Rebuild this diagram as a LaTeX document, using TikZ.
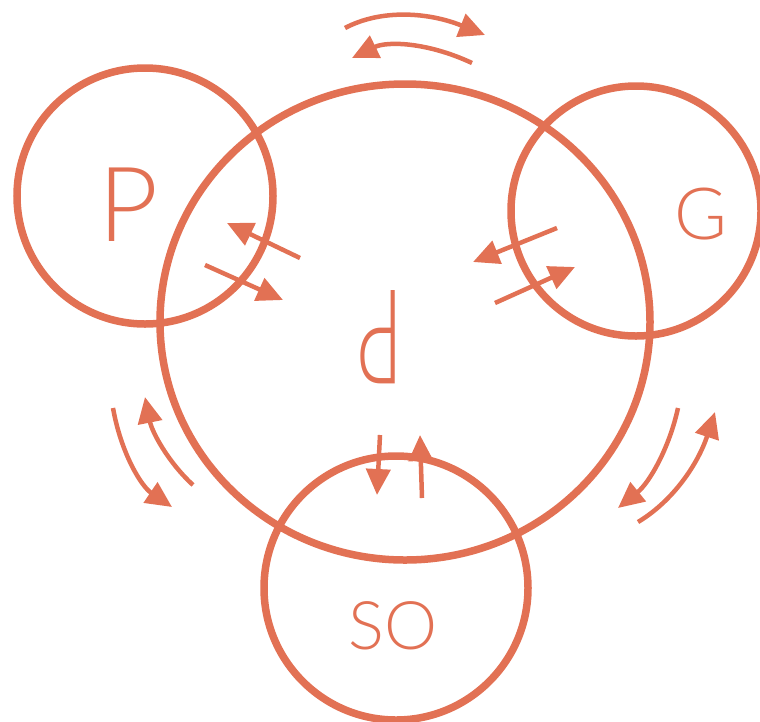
\documentclass[tikz,border=0pt]{standalone}
\usepackage{fontspec}
\newfontfamily\handfont{Lato Light}
\usetikzlibrary{arrows.meta, positioning, shapes.geometric}
\definecolor{salmon}{RGB}{226,113,84}
\begin{document}
\begin{tikzpicture}[x=1pt,y=-1pt,
  ring/.style={circle,draw=salmon,line width=7.5pt,inner sep=0pt},
  lbl/.style={text=salmon,inner sep=0pt},
  arr/.style={-{Triangle[length=26pt,width=24pt]},draw=salmon,line width=4.5pt}
]
  \useasboundingbox (0,0) rectangle (760,721);
  \node[ring,ellipse,minimum width=490pt,minimum height=476pt](core) at (405,322){};
  \node[ring,minimum size=256pt](pol) at (145,196){};
  \node[ring,minimum size=250pt](gov) at (636,211){};
  \node[ring,minimum size=264pt](soc) at (396,588){};

  \node[lbl,font=\handfont\fontsize{104}{104}\selectfont](polt) at (129,205){P};
  \node[lbl,font=\handfont\fontsize{72}{72}\selectfont](govt) at (701,214){G};
  \node[lbl,font=\handfont\fontsize{67}{67}\selectfont](soct) at (393,626){SO};
  \node[lbl,font=\handfont\fontsize{132}{132}\selectfont](coret) at (381,337){\rotatebox{180}{\scalebox{0.6}[1]{P}}};

  % straight arrows across the borders
  \foreach \xa/\ya/\xb/\yb in {300/258/227/223, 205/265/283/300, 557/228/473/262, 495/303/575/267, 380/435/377/495, 422/498/420/435}
    \draw[arr] (\xa,\ya) -- (\xb,\yb);

  % curved arrows between the outer circles
  \draw[arr] (345,28) .. controls (381,9) and (428,12) .. (485,35);
  \draw[arr] (472,63) .. controls (427,42) and (387,41) .. (352,58);
  \draw[arr] (113,408) .. controls (121,453) and (141,486) .. (172,507);
  \draw[arr] (193,485) .. controls (168,462) and (152,432) .. (145,397);
  \draw[arr] (678,408) .. controls (669,449) and (649,483) .. (618,508);
  \draw[arr] (638,522) .. controls (673,501) and (698,464) .. (715,412);
\end{tikzpicture}
\end{document}
